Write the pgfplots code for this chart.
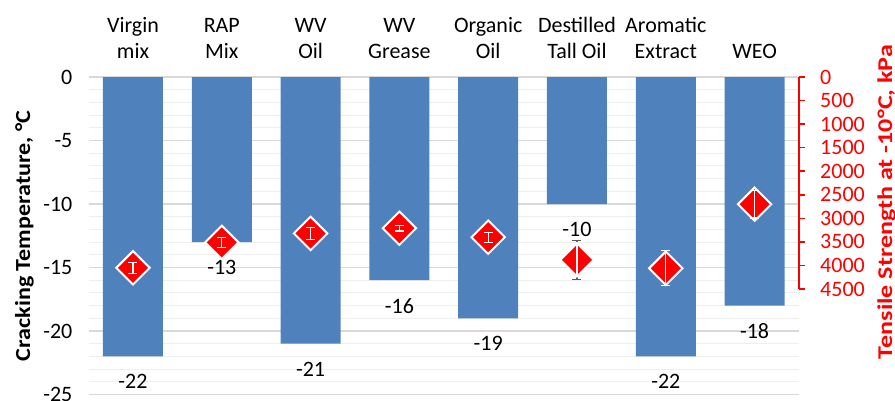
\documentclass[border=0pt]{standalone}
\usepackage{fontspec}
\setmainfont{Carlito}
\usepackage{graphicx}
\usepackage{pgfplots}
\pgfplotsset{compat=1.18}
\definecolor{barblue}{RGB}{79,129,189}
\definecolor{majgrid}{RGB}{217,217,217}
\definecolor{mingrid}{RGB}{238,238,238}
\definecolor{errgray}{RGB}{89,89,89}
\newcommand{\lbl}{\fontsize{22}{26}\selectfont}

\begin{document}
\begin{tikzpicture}
\useasboundingbox (-88.6pt,-323pt) rectangle (806.4pt,77pt);
% cracking temperature (bars, left axis)
\begin{axis}[
  name=main, at={(0,0)}, anchor=north west,
  scale only axis, width=710.4pt, height=317.5pt,
  xmin=-0.5, xmax=7.5, ymin=-25, ymax=0,
  ybar, bar width=60pt,
  axis line style={draw=none}, major tick length=0pt, minor tick length=0pt,
  xtick={0,...,7}, xticklabel pos=upper,
  xticklabels={{Virgin\\mix},{RAP\\Mix},{WV\\Oil},{WV\\Grease},{Organic\\Oil},{Destilled\\Tall Oil},{Aromatic\\Extract},{WEO}},
  xticklabel style={align=center, font=\lbl, anchor=south, inner sep=0pt, yshift=18pt},
  ytick={-25,-20,...,0}, minor y tick num=4,
  ymajorgrids, yminorgrids,
  major grid style={majgrid, line width=1.5pt},
  minor grid style={mingrid, line width=1pt},
  yticklabel style={font=\lbl, anchor=east, inner sep=0pt, xshift=-16pt},
  /pgf/number format/assume math mode=true,
  ylabel={\scalebox{1.12}[1]{\bfseries Cracking Temperature, °C}},
  ylabel style={font=\fontsize{21.5}{26}\selectfont, yshift=6pt},
  nodes near coords,
  nodes near coords style={font=\lbl, anchor=north, inner sep=0pt, yshift=-18pt},
]
\addplot[fill=barblue, draw=none]
  coordinates {(0,-22)(1,-13)(2,-21)(3,-16)(4,-19)(5,-10)(6,-22)(7,-18)};
\end{axis}
% tensile strength (diamonds, right axis)
\begin{axis}[
  at={(0,0)}, anchor=north west,
  scale only axis, width=710.4pt, height=212pt,
  xmin=-0.5, xmax=7.5, ymin=0, ymax=4500, y dir=reverse,
  hide x axis, axis y line*=right,
  y axis line style={-, red, line width=1.5pt},
  ytick={0,500,...,4500},
  tick align=outside, major tick length=6pt,
  y tick style={red, line width=1.5pt},
  yticklabel style={font=\lbl, red, anchor=west, inner sep=0pt, xshift=15pt},
  /pgf/number format/assume math mode=true,
  /pgf/number format/1000 sep={},
  clip marker paths=true,
]
\addplot[draw=none, mark=none, forget plot,
  error bars/.cd, y dir=both, y explicit,
  error bar style={draw=errgray, line width=1.2pt},
  error mark options={rotate=90, draw=errgray, line width=1.2pt, mark size=4.5pt}]
  coordinates {(0,4050) +- (0,117) (1,3510) +- (0,106) (2,3320) +- (0,130) (3,3210) +- (0,60)
               (4,3400) +- (0,106) (5,3880) +- (0,418) (6,4060) +- (0,370) (7,2700) +- (0,293)};
\addplot[only marks, mark=square*, mark size=11.8pt,
  mark options={rotate=45, fill=red, draw=white, line width=2pt}]
  coordinates {(0,4050)(1,3510)(2,3320)(3,3210)(4,3400)(5,3880)(6,4060)(7,2700)};
\addplot[draw=none, mark=none, forget plot,
  error bars/.cd, y dir=both, y explicit,
  error bar style={draw=white, line width=1.2pt},
  error mark options={rotate=90, draw=white, line width=1.2pt, mark size=4.5pt}]
  coordinates {(0,4050) +- (0,117) (1,3510) +- (0,106) (2,3320) +- (0,130) (3,3210) +- (0,60)
               (4,3400) +- (0,106) (6,4060) +- (0,370) (7,2700) +- (0,293)};
\addplot[draw=none, mark=none, forget plot,
  error bars/.cd, y dir=both, y explicit, error mark=none,
  error bar style={draw=white, line width=1.2pt}]
  coordinates {(5,3880) +- (0,320)};
\end{axis}
\node[rotate=90, font=\fontsize{21}{25}\selectfont\bfseries, red, inner sep=0pt]
  at (798pt,-125pt) {\scalebox{1.24}[1]{Tensile Strength at -10°C, kPa}};
\end{tikzpicture}
\end{document}
